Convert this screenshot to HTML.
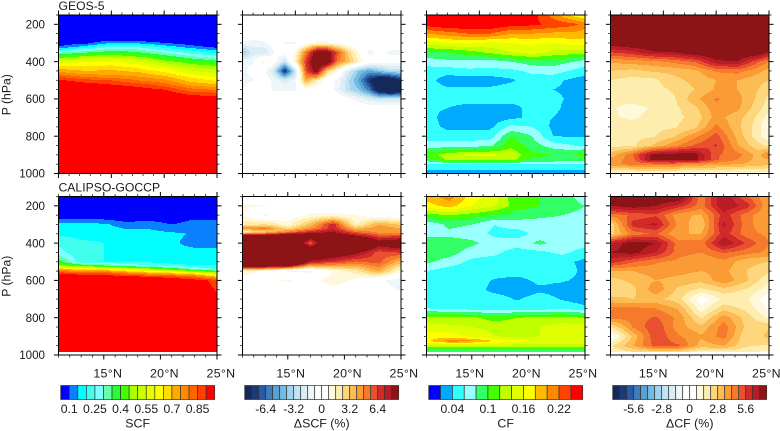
<!DOCTYPE html>
<html>
<head>
<meta charset="utf-8">
<style>
html,body{margin:0;padding:0;background:#fff;}
svg{display:block;}
text{font-family:"Liberation Sans",sans-serif;fill:#1a1a1a;}
</style>
</head>
<body>
<svg id="chart" xmlns="http://www.w3.org/2000/svg" width="780" height="431" viewBox="0 0 780 431"></svg>
<script>
/* ---------- colour levels and legends ---------- */
const scfLevels = [0.1,0.15,0.2,0.25,0.3,0.35,0.4,0.45,0.5,0.55,0.6,0.65,0.7,0.75,0.8,0.85,0.9];
const cfLevels = [0.02,0.04,0.06,0.08,0.1,0.12,0.14,0.16,0.18,0.2,0.22,0.24];
const dScfLevels = [-8,-7.2,-6.4,-5.6,-4.8,-4,-3.2,-2.4,-1.6,-0.8,0,0.8,1.6,2.4,3.2,4,4.8,5.6,6.4,7.2,8];
const dCfLevels = [-7,-6.3,-5.6,-4.9,-4.2,-3.5,-2.8,-2.1,-1.4,-0.7,0,0.7,1.4,2.1,2.8,3.5,4.2,4.9,5.6,6.3,7];
const scfColors = ['#0000ff','#0a80ff','#00ffff','#40ffee','#80ffff','#66ffaa','#22ff33','#44ff00','#aaff00','#ccff00','#e6ff00','#ffff00','#ffdd00','#ffaa00','#ff8a00','#ff6600','#ff4000','#ff0000'];
const cfColors = ['#0000ff','#00aaff','#33ffff','#99ffff','#33ff66','#44ff00','#c0ff00','#e0ff00','#ffff00','#ffbb00','#ff8800','#ff4400','#ff0000'];
const divColors = ['#14285a','#1a3a78','#2a5aa6','#3d7dbb','#58a1d3','#75bae0','#a0d4ee','#c4e3f2','#dcedf6','#eef6fa','#ffffff','#ffffff','#fff8dc','#fdeeb0','#fdd67e','#fdbb54','#fb9b36','#f67a2b','#e8502e','#d22a2b','#b81c24','#8c1416'];
const scfBarLabels = ['0.1','0.25','0.4','0.55','0.7','0.85'];
const scfBarValues = [0.1,0.25,0.4,0.55,0.7,0.85];
const cfBarLabels = ['0.04','0.1','0.16','0.22'];
const cfBarValues = [0.04,0.1,0.16,0.22];
const dScfBarLabels = ['-6.4','-3.2','0','3.2','6.4'];
const dScfBarValues = [-6.4,-3.2,0,3.2,6.4];
const dCfBarLabels = ['-5.6','-2.8','0','2.8','5.6'];
const dCfBarValues = [-5.6,-2.8,0,2.8,5.6];
const pressureTicks = [200,400,600,800,1000];

/* ---------- coordinates of the data grids ---------- */
const latsTop = [10,12,14,16,18,20,22,24,25];
const latsScfTop = [10,12.5,15,17.5,20,22.5,25];
const latsDeltaScfTop = [10,11,12,13,14,15,16,17,18,19,20,21,22,23,24,25];
const latsBottom = [11,13,15,17,19,21,23,25];
const pEvery50 = [150,200,250,300,350,400,450,500,550,600,650,700,750,800,850,900,950,1000];
const pCfTop = [150,200,250,300,350,400,450,500,550,600,650,700,750,800,850,900,925,950,1000];
const pScfTop = [150,280,300,320,340,360,380,400,420,440,460,480,500,525,550,575,600,1000];
const pScfBottom = [150,260,280,300,350,400,450,500,520,540,560,580,600,985];
const pDScfBottom = [150,200,250,300,320,340,360,400,450,500,550,600,650,700,750,800,850,900,950,1000];
const pCfBottom = [150,200,250,300,350,400,450,500,550,600,650,700,750,800,850,900,925,950,985];
const pDCfBottom = [150,200,250,300,350,400,450,500,550,600,650,700,750,800,850,900,950,985];

/* ---------- fields (rows = pressure, columns = latitude) ---------- */
const scfGeos = [
[.02,.02,.02,.02,.02,.02,.02],
[.05,.06,.07,.06,.05,.04,.03],
[.07,.08,.15,.14,.10,.07,.06],
[.10,.17,.25,.24,.18,.12,.08],
[.22,.28,.34,.32,.25,.20,.15],
[.34,.40,.43,.39,.33,.26,.22],
[.45,.50,.54,.48,.41,.34,.29],
[.55,.60,.61,.56,.47,.42,.37],
[.63,.64,.65,.62,.54,.47,.44],
[.70,.68,.69,.66,.61,.53,.49],
[.77,.72,.73,.71,.66,.58,.54],
[.85,.79,.77,.75,.71,.64,.59],
[.91,.87,.85,.80,.76,.68,.64],
[.96,.93,.905,.88,.83,.74,.71],
[.98,.96,.95,.93,.90,.82,.79],
[.99,.98,.97,.96,.95,.89,.88],
[1,.99,.99,.98,.97,.94,.93],
[1,1,1,1,1,1,1]];
const dScfGeos = [
[0,0,0,0,0,0,0,0,0,0,0,0,0,0,0,0],
[0,0,0,0,0,0,0,0,0,0,0,0,0,0,0,0],
[0,0,0,0,0,0,0,0,0,0,0,0,0,0,0,0],
[-.9,-1.2,-1,-.2,-.9,-.9,.3,1,1,.5,0,0,0,0,0,0],
[-4,-2,-2.4,-.8,0,1,5,9,9,6,3,.8,-1.2,-.5,-1,-1],
[-1,-.9,1.2,-.3,-2.5,1.5,6.5,10,10,5,3.5,1.5,0,-.4,-.4,-.4],
[-1,-.5,-.3,-2.5,-8,-2.5,6,9,3,.8,-2,-4,-5,-4,-3,-3],
[-1,-.9,0,-1.2,-2,-1.2,4,2,0,-1,-3,-5,-8,-10,-10,-8],
[-.9,0,0,-1,-1,-1,.5,0,0,-1.2,-3,-4,-6,-10,-11,-10],
[0,0,0,0,0,0,0,0,0,0,-.4,-1.2,-2,-2.5,-2.5,-2.5],
[0,0,0,0,0,0,0,0,0,0,0,0,0,0,0,0],
[0,0,0,0,0,0,0,0,0,0,0,0,0,0,0,0],
[0,0,0,0,0,0,0,0,0,0,0,0,0,0,0,0],
[0,0,0,0,0,0,0,0,0,0,0,0,0,0,0,0],
[0,0,0,0,0,0,0,0,0,0,0,0,0,0,0,0],
[0,0,0,0,0,0,0,0,0,0,0,0,0,0,0,0],
[0,0,0,0,0,0,0,0,0,0,0,0,0,0,0,0],
[0,0,0,0,0,0,0,0,0,0,0,0,0,0,0,0]];
const cfGeos = [
[.26,.27,.27,.27,.26,.25,.21,.17,.16],
[.25,.26,.26,.26,.25,.245,.235,.225,.21],
[.20,.21,.22,.22,.20,.20,.195,.195,.19],
[.15,.16,.165,.155,.16,.165,.16,.17,.17],
[.095,.10,.11,.125,.14,.15,.135,.13,.13],
[.07,.075,.075,.07,.08,.09,.09,.08,.07],
[.05,.05,.055,.055,.055,.065,.07,.055,.05],
[.05,.028,.028,.028,.037,.05,.045,.035,.03],
[.05,.045,.045,.045,.05,.05,.04,.035,.03],
[.06,.05,.05,.05,.05,.045,.045,.035,.03],
[.045,.04,.03,.03,.03,.05,.045,.03,.03],
[.05,.03,.03,.03,.035,.045,.04,.03,.03],
[.05,.035,.035,.035,.065,.06,.035,.03,.03],
[.055,.05,.05,.05,.10,.08,.04,.038,.038],
[.065,.07,.07,.075,.115,.09,.07,.06,.06],
[.11,.13,.145,.145,.135,.105,.10,.10,.11],
[.09,.125,.13,.13,.13,.095,.095,.09,.09],
[.06,.06,.06,.06,.06,.06,.06,.06,.06],
[.025,.025,.025,.025,.025,.025,.025,.025,.025]];
const dCfGeos = [
[8,8,8,8,8,8,8,8,6.5],
[8,8,8,8,8,8,8,8,8],
[8,8,8,8,8,8,8,8,8],
[7.6,8,8,8,8,8,8,8,8],
[5.6,6,6.9,7,7.8,8,8,8,6.8],
[3.6,3.8,4,4.4,5,6.8,7,5,4.2],
[2.8,2.6,2.9,3,3.3,4.3,4.5,3.7,3.2],
[2.1,1.8,1.9,2.6,3,3.5,3.5,3,2.8],
[2,1.7,1.8,2.2,2.8,3.6,3.5,2.8,2.2],
[1.7,1.7,1.9,2,3.3,4.3,3.8,2.6,1.9],
[1.5,1.1,1.5,1.9,2.6,4,3.7,2.3,1.7],
[1.5,1.3,1.6,1.9,2.3,3.8,3.1,1.9,1],
[1.7,1.7,1.9,2,2.6,4.4,3,1.7,.5],
[1.9,1.9,2,2.7,4,5.2,3.3,1.6,.8],
[1.9,1.9,2.9,4,5,5.7,3.6,2.3,2],
[3,4.7,7.3,7.5,7.4,5,4.5,3.2,4.5],
[3.8,4.5,7.4,7.6,7.3,5,4.2,3.2,3.5],
[4,4.4,4.5,4.5,4,3.8,3.5,3.2,3],
[1,1,1,1,1,1,1,1,1]];
const scfCalipso = [
[.02,.02,.02,.02,.02,.02,.02,.02],
[.08,.07,.07,.07,.06,.06,.06,.06],
[.12,.12,.115,.09,.10,.08,.11,.11],
[.17,.17,.16,.12,.13,.10,.12,.12],
[.19,.18,.19,.18,.17,.16,.145,.14],
[.24,.21,.2,.18,.16,.16,.13,.14],
[.27,.21,.20,.18,.17,.17,.17,.16],
[.38,.21,.20,.18,.19,.18,.18,.18],
[.48,.40,.35,.30,.25,.22,.20,.20],
[.70,.68,.65,.58,.50,.42,.30,.25],
[.88,.85,.85,.78,.72,.68,.62,.50],
[.97,.96,.95,.92,.90,.87,.82,.70],
[1,1,1,.99,.98,.96,.93,.88],
[1,1,1,1,1,1,1,1]];
const dScfCalipso = [
[0,0,0,0,0,0,0,0],
[.9,.9,.3,0,0,0,0,0],
[1,-1,0,1,1,.9,0,0],
[2,2.5,1.2,3.5,7,1.5,4,3],
[5,5,2.5,4.5,7,3.5,4.5,4],
[1.5,3,5,7,8,5.5,4.5,4],
[9,9,10,10,10,8,6,6],
[14,14,14,5.5,14,14,9,10],
[14,14,14,12,10,8.5,6,6.5],
[16,16,16,7.5,6.5,5.5,6,3.5],
[1.5,.5,-1,-1,.9,2,4,1],
[0,.5,1,.2,1.5,.5,-.5,-1.5],
[0,0,0,0,.2,0,0,-1],
[0,0,0,0,0,0,0,0],
[0,0,0,0,0,0,0,0],
[0,0,0,0,0,0,0,0],
[0,0,0,0,0,0,0,0],
[0,0,0,0,0,0,0,0],
[0,0,0,0,0,0,0,0],
[0,0,0,0,0,0,0,0]];
const cfCalipso = [
[.19,.21,.17,.15,.10,.10,.09,.07],
[.17,.19,.16,.14,.11,.10,.09,.08],
[.11,.12,.11,.10,.09,.085,.08,.075],
[.065,.085,.08,.06,.07,.07,.07,.07],
[.075,.075,.07,.055,.05,.07,.07,.065],
[.09,.09,.085,.07,.07,.085,.07,.07],
[.095,.09,.07,.065,.05,.055,.065,.05],
[.085,.07,.055,.05,.05,.05,.045,.035],
[.06,.05,.05,.05,.05,.05,.05,.035],
[.05,.05,.05,.038,.033,.045,.042,.035],
[.05,.05,.05,.034,.028,.036,.032,.03],
[.05,.05,.05,.05,.038,.05,.038,.03],
[.06,.055,.05,.05,.05,.05,.055,.045],
[.125,.125,.125,.11,.12,.125,.125,.12],
[.15,.145,.14,.135,.135,.14,.15,.15],
[.17,.17,.155,.14,.135,.14,.14,.15],
[.175,.21,.205,.18,.165,.16,.16,.155],
[.13,.13,.13,.13,.13,.13,.13,.13],
[.08,.08,.08,.08,.08,.08,.08,.08]];
const dCfCalipso = [
[8,8,8,8,4.5,7,5,3.5],
[7,7.5,7,6,4.5,7,6,3.5],
[4.5,5,5.5,3.7,3.4,6,4.5,3.5],
[2.2,6,6.5,4,2.9,6.5,4.5,3.5],
[2.5,4.5,5,3.5,3.5,6,4.5,4],
[6.4,7.5,7,4.5,4.5,7,5.5,4.2],
[7,7.3,6.3,4.5,4.2,5,4.5,4],
[6,5,4.3,4,3.6,4,3,2.8],
[3.5,3.5,3.8,3.7,3.5,3.7,2.8,2.3],
[2.5,3,3.5,3.3,3,4,2.9,1.5],
[2.2,2.6,4,2.6,1.9,2.5,2,1],
[3,2.8,3,2.4,.2,1.6,1.5,.2],
[4.4,4.4,4.2,3.4,1,2.5,1.9,.5],
[4.4,4.5,5,4,2,3.9,2.5,1.2],
[2,4.3,5.5,3.8,3,4.6,2.6,2.7],
[.1,3,5.5,4.3,3.6,4.5,2.2,3],
[2,3.5,5.2,5,3.2,3.5,2.2,2],
[1.4,2,2.2,2.2,1.5,1.6,1.6,1.2]];

/* ---------- layout ---------- */
const SVGNS = 'http://www.w3.org/2000/svg';
const svg = document.getElementById('chart');
const panelWidth = 158.5, panelHeight = 158.5;
const pMin = 150, pMax = 1000, latMax = 25;

function make(tag, parent) {
  const el = document.createElementNS(SVGNS, tag);
  parent.appendChild(el);
  return el;
}
function line(parent, x1, y1, x2, y2, w) {
  const l = make('line', parent);
  l.setAttribute('x1', x1); l.setAttribute('y1', y1);
  l.setAttribute('x2', x2); l.setAttribute('y2', y2);
  l.setAttribute('stroke', '#000'); l.setAttribute('stroke-width', w);
  return l;
}
function label(parent, str, x, y, size, anchor) {
  const t = make('text', parent);
  t.setAttribute('x', x); t.setAttribute('y', y);
  t.setAttribute('font-size', size);
  t.setAttribute('text-anchor', anchor);
  t.textContent = str;
  return t;
}
function bracket(axis, v) {
  let i = 0;
  while (i < axis.length - 2 && v > axis[i + 1]) i++;
  return [i, Math.min(1, Math.max(0, (v - axis[i]) / (axis[i + 1] - axis[i])))];
}
function sample(field, lats, levels, lat, p) {
  const [i, u] = bracket(lats, lat);
  const [j, v] = bracket(levels, p);
  return (1 - v) * ((1 - u) * field[j][i] + u * field[j][i + 1]) +
         v * ((1 - u) * field[j + 1][i] + u * field[j + 1][i + 1]);
}
function bin(levels, value) {
  let k = 0;
  while (k < levels.length && value >= levels[k]) k++;
  return k;
}

function drawPanel(cfg) {
  const g = make('g', svg);
  
  
  const xOf = lat => cfg.left + (lat - cfg.latMin) / (latMax - cfg.latMin) * panelWidth;
  const yOf = p => cfg.top + (p - pMin) / (pMax - pMin) * panelHeight;
  const latOf = x => cfg.latMin + (x - cfg.left) / panelWidth * (latMax - cfg.latMin);
  const pOf = y => pMin + (y - cfg.top) / panelHeight * (pMax - pMin);

  /* filled contour bands, one merged run per pixel row */
  const bands = make('g', g);
  
  
  bands.setAttribute('shape-rendering', 'crispEdges');
  const xStart = Math.ceil(cfg.left), xEnd = Math.floor(cfg.left + panelWidth);
  const yStart = Math.ceil(cfg.top), yEnd = Math.floor(cfg.top + panelHeight);
  const lastLevel = cfg.levels[cfg.levels.length - 1];
  for (let y = yStart; y < yEnd; y++) {
    const p = pOf(y + 0.5);
    if (p > lastLevel) continue;
    let runStart = xStart, runBin = -1;
    for (let x = xStart; x <= xEnd; x++) {
      const k = x < xEnd ? bin(cfg.thresholds, sample(cfg.field, cfg.lats, cfg.levels, latOf(x + 0.5), p)) : -2;
      if (k !== runBin) {
        if (runBin >= 0 && cfg.colors[runBin] !== '#ffffff') {
          const r = make('rect', bands);
          
          
          r.setAttribute('x', runStart); r.setAttribute('y', y);
          r.setAttribute('width', x - runStart); r.setAttribute('height', 1);
          r.setAttribute('fill', cfg.colors[runBin]);
        }
        runStart = x; runBin = k;
      }
    }
  }

  /* axes */
  const axes = make('g', g);
  
  
  const T = cfg.top, B = cfg.top + panelHeight, L = cfg.left, R = cfg.left + panelWidth;
  line(axes, L, T, R, T, 1);
  line(axes, L, B, R, B, 1);
  line(axes, L, T, L, B, 1);
  line(axes, R, T, R, B, 1);
  for (let lat = Math.ceil(cfg.latMin); lat <= latMax; lat++) {
    const major = lat % 5 === 0;
    const len = major ? 4.5 : 2.5;
    const x = xOf(lat);
    line(axes, x, T - len, x, T, major ? 1 : 0.7);
    line(axes, x, B, x, B + len, major ? 1 : 0.7);
  }
  for (let p = 150; p <= 1000; p += 50) {
    const major = p % 200 === 0;
    const len = major ? 4.5 : 2.5;
    const y = yOf(p);
    line(axes, L - len, y, L, y, major ? 1 : 0.7);
    line(axes, R, y, R + len, y, major ? 1 : 0.7);
  }
  if (cfg.latLabelShift !== undefined) {
    [15, 20, 25].forEach(lat => {
      const t = label(axes, lat + '°N', xOf(lat) + cfg.latLabelShift, 377.5, 12.4, 'middle');
      t.setAttribute('letter-spacing', '0.3');
      
      
    });
  }
  if (cfg.showPressureLabels) {
    pressureTicks.forEach(p => {
      const t = label(axes, String(p), 45, yOf(p) + 4.2, 11.6, 'end');
      
      
    });
    const mid = (T + B) / 2 + 0.5;
    const yt = label(axes, 'P (hPa)', 0, 0, 12.2, 'middle');
    yt.setAttribute('transform', 'translate(10.5,' + mid + ') rotate(-90)');
    
    
  }
  if (cfg.title) {
    const t = label(axes, cfg.title, L, T - 5, 12.2, 'start');
    
    
  }
}

function drawColorbar(cfg) {
  const g = make('g', svg);
  
  
  const x0 = cfg.left, w = 154, y0 = 385.5, h = 14;
  const boxW = w / cfg.colors.length;
  cfg.colors.forEach((c, i) => {
    const r = make('rect', g);
    
    
    r.setAttribute('x', x0 + i * boxW); r.setAttribute('y', y0);
    r.setAttribute('width', boxW); r.setAttribute('height', h);
    r.setAttribute('fill', c);
    r.setAttribute('stroke', '#333'); r.setAttribute('stroke-width', 0.7);
  });
  const first = cfg.thresholds[0], step = cfg.thresholds[1] - cfg.thresholds[0];
  cfg.barValues.forEach((v, i) => {
    const x = x0 + ((v - first) / step + 1) * boxW;
    const t = label(g, cfg.barLabels[i], x, 413, 12.2, 'middle');
    
    
  });
  const title = label(g, cfg.title, x0 + w / 2, 427.5, 12.4, 'middle');
  
  
}

const lefts = [58.5, 242.5, 426.5, 610.5];
const topRow = 15, bottomRow = 196.5;

drawPanel({name:'panel-geos5-scf', left:lefts[0], top:topRow, latMin:10, lats:latsScfTop, levels:pScfTop, field:scfGeos, thresholds:scfLevels, colors:scfColors, showPressureLabels:true, title:'GEOS-5'});
drawPanel({name:'panel-geos5-delta-scf', left:lefts[1], top:topRow, latMin:10, lats:latsDeltaScfTop, levels:pEvery50, field:dScfGeos, thresholds:dScfLevels, colors:divColors});
drawPanel({name:'panel-geos5-cf', left:lefts[2], top:topRow, latMin:10, lats:latsTop, levels:pCfTop, field:cfGeos, thresholds:cfLevels, colors:cfColors});
drawPanel({name:'panel-geos5-delta-cf', left:lefts[3], top:topRow, latMin:10, lats:latsTop, levels:pCfTop, field:dCfGeos, thresholds:dCfLevels, colors:divColors});
drawPanel({name:'panel-calipso-scf', left:lefts[0], top:bottomRow, latMin:11, lats:latsBottom, levels:pScfBottom, field:scfCalipso, thresholds:scfLevels, colors:scfColors, showPressureLabels:true, latLabelShift:4, title:'CALIPSO-GOCCP'});
drawPanel({name:'panel-calipso-delta-scf', left:lefts[1], top:bottomRow, latMin:11, lats:latsBottom, levels:pDScfBottom, field:dScfCalipso, thresholds:dScfLevels, colors:divColors, latLabelShift:3});
drawPanel({name:'panel-calipso-cf', left:lefts[2], top:bottomRow, latMin:11, lats:latsBottom, levels:pCfBottom, field:cfCalipso, thresholds:cfLevels, colors:cfColors, latLabelShift:-2});
drawPanel({name:'panel-calipso-delta-cf', left:lefts[3], top:bottomRow, latMin:11, lats:latsBottom, levels:pDCfBottom, field:dCfCalipso, thresholds:dCfLevels, colors:divColors, latLabelShift:-2.5});

drawColorbar({name:'colorbar-scf', left:60.7, colors:scfColors, thresholds:scfLevels, barValues:scfBarValues, barLabels:scfBarLabels, title:'SCF'});
drawColorbar({name:'colorbar-delta-scf', left:244.7, colors:divColors, thresholds:dScfLevels, barValues:dScfBarValues, barLabels:dScfBarLabels, title:'ΔSCF (%)'});
drawColorbar({name:'colorbar-cf', left:428.7, colors:cfColors, thresholds:cfLevels, barValues:cfBarValues, barLabels:cfBarLabels, title:'CF'});
drawColorbar({name:'colorbar-delta-cf', left:612.7, colors:divColors, thresholds:dCfLevels, barValues:dCfBarValues, barLabels:dCfBarLabels, title:'ΔCF (%)'});
</script>
</body>
</html>
